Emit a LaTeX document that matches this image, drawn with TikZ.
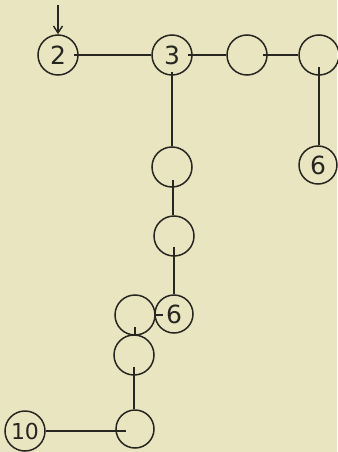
\documentclass[tikz,border=0pt]{standalone}
\usepackage{fontspec}
\setmainfont{DejaVu Sans}
\usetikzlibrary{calc,arrows.meta}
\definecolor{paper}{RGB}{232,229,192}
\definecolor{ink}{RGB}{40,38,32}
\begin{document}
\begin{tikzpicture}[x=1pt,y=-1pt,
  vert/.style={circle,draw=ink,line width=1.5pt,minimum size=40pt,inner sep=0pt,
    text=ink,font=\fontsize{25}{25}\selectfont},
  link/.style={draw=ink,line width=1.4pt}]
\fill[paper] (0,0) rectangle (337,452);
\useasboundingbox (0,0) rectangle (337,452);
\node[vert] (n2) at (58,55) {2};
\node[vert] (n3) at (172,55) {3};
\node[vert] (c1) at (247,55) {};
\node[vert] (c2) at (319,55) {};
\node[vert,minimum size=38pt] (n6a) at (318,165) {6};
\node[vert] (a) at (172,167) {};
\node[vert] (b) at (174,236) {};
\node[vert] (c) at (135,315) {};
\node[vert,minimum size=38pt] (n6b) at (174,314) {6};
\node[vert] (d) at (134,355) {};
\node[vert,minimum size=38pt] (e) at (135,429) {};
\node[vert,font=\fontsize{22}{22}\selectfont] (n10) at (25,431) {10};
\coordinate (top) at (58,5);
\coordinate (p2) at ($(c2.center)+(0,12)$);
\coordinate (p3) at ($(n3.center)+(0,17)$);
\coordinate (pa) at ($(a.center)+(1,13)$);
\coordinate (pb) at ($(b.center)+(0,11)$);
\coordinate (pc) at ($(c.center)+(0,12)$);
\coordinate (pd) at ($(d.center)+(0,12)$);
\coordinate (pe) at ($(e.center)+(-9,2)$);
\draw[link,-{Straight Barb[length=7pt,width=9pt]}] (top) -- (n2);
\draw[link] ($(n2.east)+(-5,0)$) -- (n3);
\draw[link] ($(n3.east)+(-5,0)$) -- (c1);
\draw[link] ($(c1.east)+(-5,0)$) -- (c2);
\draw[link] (p2) -- (p2 |- n6a.north);
\draw[link] (p3) -- (p3 |- a.north);
\draw[link] (pa) -- (pa |- b.north);
\draw[link] (pb) -- (pb |- n6b.north);
\draw[link] (c.east) -- ++(7,0);
\draw[link] (pc) -- (pc |- d.north);
\draw[link] (pd) -- (pd |- e.north);
\draw[link] (n10.east) -- (pe);
\end{tikzpicture}
\end{document}
